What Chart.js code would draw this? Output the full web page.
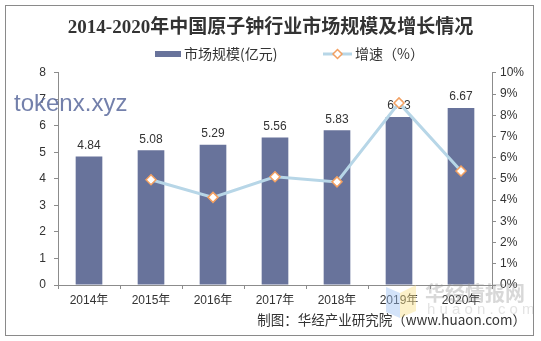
<!DOCTYPE html>
<html>
<head>
<meta charset="utf-8">
<script src="https://cdn.jsdelivr.net/npm/chart.js@4/dist/chart.umd.min.js"></script>
<style>
  html, body { margin: 0; padding: 0; background: #fff; }
  #wrap { width: 541px; height: 341px; }
</style>
</head>
<body>
<div id="wrap"><canvas id="chartMain" width="541" height="341"></canvas></div>
<script>
const years = ['2014年', '2015年', '2016年', '2017年', '2018年', '2019年', '2020年'];
const marketSize = [4.84, 5.08, 5.29, 5.56, 5.83, 6.33, 6.67];
const growthRate = [null, 4.96, 4.13, 5.10, 4.86, 8.58, 5.37];
const leftTicks = [0, 1, 2, 3, 4, 5, 6, 7, 8];
const rightTicks = [0, 1, 2, 3, 4, 5, 6, 7, 8, 9, 10];

const BAR_COLOR = '#68739b';
const LINE_COLOR = '#b7d6e7';
const POINT_BORDER = '#f2a062';
const TEXT_COLOR = '#333333';
const AXIS_COLOR = '#8c8c8c';
const FONT = '"Liberation Sans", Arial, "Noto Sans CJK SC", sans-serif';
const CJK = '"Noto Sans CJK SC", "Liberation Sans", sans-serif';

function drawDiamond(ctx, x, y, r) {
    ctx.beginPath();
    ctx.moveTo(x, y - r); ctx.lineTo(x + r, y); ctx.lineTo(x, y + r); ctx.lineTo(x - r, y);
    ctx.closePath();
    ctx.fillStyle = '#fff';
    ctx.strokeStyle = POINT_BORDER;
    ctx.lineWidth = 1.5;
    ctx.fill(); ctx.stroke();
}

const decoPlugin = {
    id: 'deco',
    afterDatasetDraw(chart, args) {
        if (args.index !== 0) return;
        const { ctx } = chart;
        const meta = chart.getDatasetMeta(0);
        ctx.save();
        ctx.font = '12px ' + FONT;
        ctx.fillStyle = TEXT_COLOR;
        ctx.textAlign = 'center';
        ctx.textBaseline = 'bottom';
        meta.data.forEach((bar, i) => {
            ctx.fillText(marketSize[i].toFixed(2), bar.x, bar.y - 5);
        });
        ctx.restore();
    },
    afterDraw(chart) {
        const { ctx } = chart;
        const ds = chart.data.datasets;
        ctx.save();
        // outer frame
        ctx.strokeStyle = '#8a8a8a';
        ctx.lineWidth = 1;
        ctx.strokeRect(5.5, 5.5, 528, 330);

        // legend
        const ly = 54;
        ctx.font = '14px ' + CJK;
        ctx.textAlign = 'left';
        ctx.textBaseline = 'middle';
        ctx.fillStyle = BAR_COLOR;
        ctx.fillRect(155, ly - 3, 26, 6);
        ctx.fillStyle = TEXT_COLOR;
        ctx.fillText(ds[0].label, 184, ly);
        ctx.strokeStyle = LINE_COLOR;
        ctx.lineWidth = 3;
        ctx.beginPath(); ctx.moveTo(323, ly); ctx.lineTo(352, ly); ctx.stroke();
        drawDiamond(ctx, 337.5, ly, 4.5);
        ctx.fillStyle = TEXT_COLOR;
        ctx.fillText(ds[1].label, 355, ly);

        // source note
        ctx.font = '13.5px ' + CJK;
        ctx.textAlign = 'right';
        ctx.fillText('制图：华经产业研究院（www.huaon.com）', 526, 320);

        // huaon watermark
        ctx.globalAlpha = 0.45;
        ctx.fillStyle = '#9ec1f2';
        ctx.beginPath();
        ctx.moveTo(386, 287); ctx.lineTo(400, 293); ctx.lineTo(400, 318); ctx.lineTo(386, 312); ctx.closePath();
        ctx.fill();
        ctx.fillStyle = '#f8e08a';
        ctx.beginPath();
        ctx.moveTo(400, 293); ctx.lineTo(416, 285); ctx.lineTo(416, 311); ctx.lineTo(400, 318); ctx.closePath();
        ctx.fill();
        ctx.globalAlpha = 0.35;
        ctx.fillStyle = '#8f8f8f';
        ctx.font = 'bold 20px ' + CJK;
        ctx.textAlign = 'left';
        ctx.fillText('华经情报网', 425, 293);
        ctx.globalAlpha = 0.25;
        ctx.font = '15px ' + FONT;
        ctx.fillText('h u a o n . c o m', 427, 310);

        // tokenx watermark
        ctx.globalAlpha = 0.85;
        ctx.fillStyle = '#5a6a9c';
        ctx.font = '24px ' + FONT;
        ctx.textBaseline = 'alphabetic';
        ctx.fillText('tokenx.xyz', 14, 111);
        ctx.restore();
    }
};

new Chart(document.getElementById('chartMain'), {
    type: 'bar',
    data: {
        labels: years,
        datasets: [{
            type: 'bar',
            label: '市场规模(亿元)',
            data: marketSize,
            backgroundColor: BAR_COLOR,
            categoryPercentage: 1,
            barPercentage: 0.43,
            yAxisID: 'y',
            order: 2
        }, {
            type: 'line',
            label: '增速（%）',
            data: growthRate,
            borderColor: LINE_COLOR,
            borderWidth: 3,
            backgroundColor: '#fff',
            pointStyle: 'rectRot',
            pointRadius: 5,
            pointHoverRadius: 5,
            pointBorderColor: POINT_BORDER,
            pointBorderWidth: 1.5,
            pointBackgroundColor: '#fff',
            tension: 0,
            spanGaps: false,
            yAxisID: 'y1',
            order: 1
        }]
    },
    plugins: [decoPlugin],
    options: {
        responsive: false,
        animation: false,
        events: [],
        layout: { padding: { left: 8, right: 8, top: 0, bottom: 30 } },
        plugins: {
            title: {
                display: true,
                text: '2014-2020年中国原子钟行业市场规模及增长情况',
                color: '#333',
                font: { family: '"Liberation Serif", "Noto Sans CJK SC", serif', size: 19, weight: 'bold' },
                padding: { top: 17, bottom: 33 }
            },
            legend: { display: false },
            tooltip: { enabled: false }
        },
        scales: {
            x: {
                offset: true,
                grid: { display: true, drawOnChartArea: false, offset: true, tickLength: 4, color: AXIS_COLOR },
                border: { display: true, color: AXIS_COLOR },
                ticks: { color: TEXT_COLOR, font: { family: FONT, size: 12 }, padding: 4, maxRotation: 0 },
                afterFit(scale) { scale.height = 26; }
            },
            y: {
                position: 'left',
                min: 0,
                max: 8,
                afterBuildTicks(scale) { scale.ticks = leftTicks.map(v => ({ value: v })); },
                grid: { display: true, drawOnChartArea: false, tickLength: 4, color: AXIS_COLOR },
                border: { display: true, color: AXIS_COLOR },
                ticks: { color: TEXT_COLOR, font: { family: FONT, size: 12 }, padding: 8 },
                afterFit(scale) { scale.width = 50; }
            },
            y1: {
                position: 'right',
                min: 0,
                max: 10,
                afterBuildTicks(scale) { scale.ticks = rightTicks.map(v => ({ value: v })); },
                grid: { display: true, drawOnChartArea: false, tickLength: 4, color: AXIS_COLOR },
                border: { display: true, color: AXIS_COLOR },
                ticks: {
                    color: TEXT_COLOR,
                    font: { family: FONT, size: 12 },
                    padding: 4,
                    callback: v => v + '%'
                },
                afterFit(scale) { scale.width = 41; }
            }
        }
    }
});
</script>
</body>
</html>
